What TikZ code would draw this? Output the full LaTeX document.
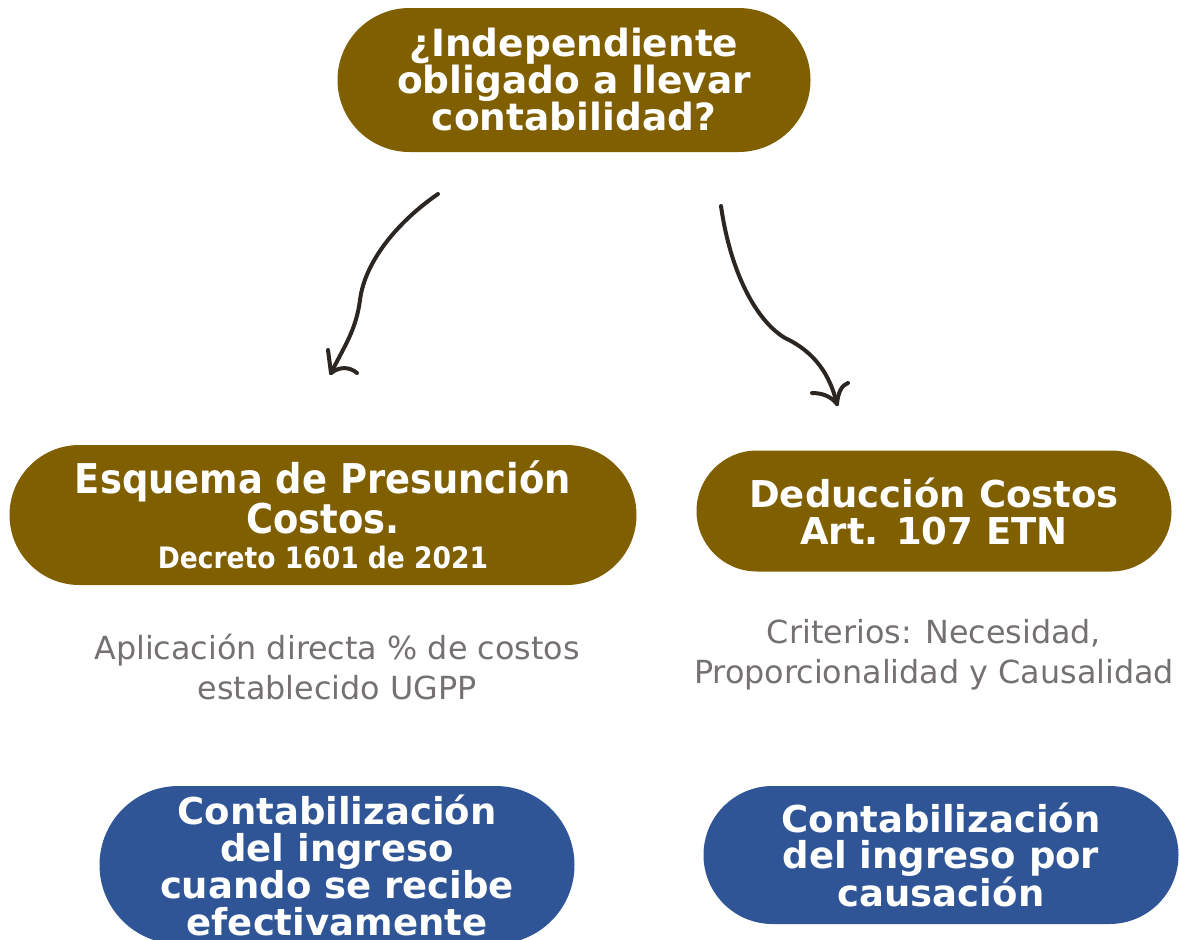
\documentclass[tikz,border=0pt]{standalone}
\usepackage{fontspec}
\setmainfont{DejaVu Sans}
\newfontfamily\condfont{DejaVu Sans Condensed}
\definecolor{brownfill}{RGB}{127,95,0}
\definecolor{bluefill}{RGB}{47,85,151}
\definecolor{graytext}{RGB}{118,113,113}
\definecolor{inkcol}{RGB}{43,38,34}
\usetikzlibrary{shapes.misc}
\tikzset{
  pill/.style={rounded rectangle, draw=none, text=white, font=\bfseries, align=center, inner sep=0pt},
  brownpill/.style={pill, fill=brownfill},
  bluepill/.style={pill, fill=bluefill},
  note/.style={text=graytext, align=center, font=\fontsize{31.8}{40}\selectfont},
  ink/.style={draw=inkcol, line width=4pt, line cap=round, line join=round}
}
\begin{document}
\begin{tikzpicture}[x=1pt,y=-1pt]
\useasboundingbox (0,0) rectangle (1179,940);
\node[brownpill, minimum width=473pt, minimum height=144pt, font=\bfseries\fontsize{37.5}{37}\selectfont] (q) at (574,80) {¿Independiente\\obligado a llevar\\contabilidad?};
\node[brownpill, minimum width=627pt, minimum height=140pt, font=\condfont\bfseries\fontsize{41}{37}\selectfont] (pres) at (323,515) {Esquema de Presunción\\Costos.\\[-2pt]\fontsize{29.5}{30}\selectfont Decreto 1601 de 2021};
\coordinate (presfix) at (323,517);
\node[brownpill, minimum width=475pt, minimum height=121pt, font=\bfseries\fontsize{37}{37}\selectfont] (ded) at (934,511) {Deducción Costos\\Art. 107 ETN};
\node[note] (n1) at (337,667) {Aplicación directa \% de costos\\establecido UGPP};
\node[note] (n2) at (934,655) {Criterios: Necesidad,\\Proporcionalidad y Causalidad};
\node[bluepill, minimum width=475pt, minimum height=158pt, font=\bfseries\fontsize{37}{37}\selectfont] (c1) at (337,865) {Contabilización\\del ingreso\\cuando se recibe\\efectivamente};
\node[bluepill, minimum width=475pt, minimum height=138pt, font=\bfseries\fontsize{37}{36}\selectfont] (c2) at (941,855) {Contabilización\\del ingreso por\\causación};
% left arrow
\coordinate (a1s) at (438,194);
\coordinate (a1e) at (331,373);
\draw[ink] (a1s) .. controls (400,220) and (365,260) .. (360,300) .. controls (356,330) and (345,345) .. (a1e);
\draw[ink] (a1e) -- (328,350);
\draw[ink] (a1e) .. controls (340,366) and (350,367) .. (357,373);
% right arrow
\coordinate (a2s) at (721,206);
\coordinate (a2e) at (837,404);
\draw[ink] (a2s) .. controls (730,270) and (755,320) .. (785,338) .. controls (815,352) and (830,375) .. (a2e);
\draw[ink] (a2e) .. controls (830,395) and (820,393) .. (812,393);
\draw[ink] (a2e) .. controls (838,392) and (842,385) .. (848,383);
\end{tikzpicture}
\end{document}
